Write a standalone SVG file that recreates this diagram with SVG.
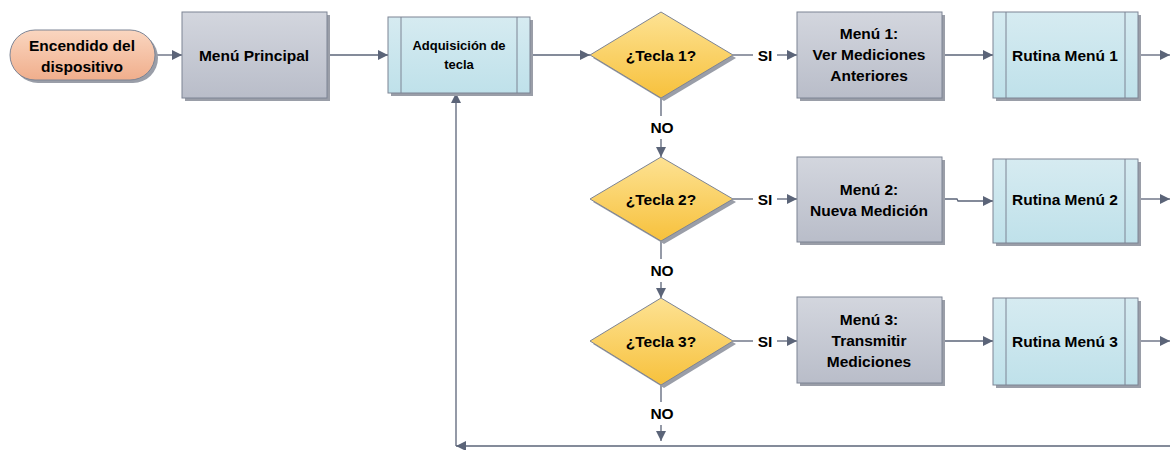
<svg xmlns="http://www.w3.org/2000/svg" width="1170" height="450" viewBox="0 0 1170 450">
<defs>
<linearGradient id="gGray" x1="0" y1="0" x2="0" y2="1"><stop offset="0" stop-color="#d3d6de"/><stop offset="1" stop-color="#b9bdc9"/></linearGradient>
<linearGradient id="gBlue" x1="0" y1="0" x2="0" y2="1"><stop offset="0" stop-color="#d6ebf1"/><stop offset="1" stop-color="#bfe1ea"/></linearGradient>
<linearGradient id="gYel" x1="0" y1="0" x2="0" y2="1"><stop offset="0" stop-color="#fde293"/><stop offset="1" stop-color="#f7c13c"/></linearGradient>
<linearGradient id="gSal" x1="0" y1="0" x2="0" y2="1"><stop offset="0" stop-color="#fad6c0"/><stop offset="1" stop-color="#f0ae8c"/></linearGradient>
<marker id="ah" viewBox="0 0 10 10" refX="10" refY="5" markerWidth="10" markerHeight="10" markerUnits="userSpaceOnUse" orient="auto"><path d="M0,0 L10,5 L0,10 z" fill="#5b6478"/></marker>
</defs>
<style>
.box{stroke:#7d8494;stroke-width:1}
.sh{fill:#9a9ea8}
.t{font-family:"Liberation Sans",Arial,sans-serif;font-weight:bold;font-size:15.5px;fill:#000;text-anchor:middle}
.ts{font-size:13px}
.c{fill:none;stroke:#5b6478;stroke-width:1.3}
.ca{fill:none;stroke:#5b6478;stroke-width:1.3;marker-end:url(#ah)}
.il{stroke:#7d8494;stroke-width:1}
</style>
<rect width="1170" height="450" fill="#fff"/>

<g id="connectors">
<line class="ca" x1="155" y1="55" x2="182" y2="55"/>
<line class="ca" x1="327" y1="55" x2="388" y2="55"/>
<line class="ca" x1="530" y1="55" x2="590" y2="55"/>
<line class="c" x1="733" y1="55" x2="753" y2="55"/>
<line class="ca" x1="777" y1="55" x2="797" y2="55"/>
<line class="ca" x1="942" y1="55" x2="993" y2="55"/>
<line class="ca" x1="1138" y1="55" x2="1170" y2="55"/>
<line class="c" x1="661" y1="98" x2="661" y2="116"/>
<line class="ca" x1="661" y1="139" x2="661" y2="157"/>
<line class="c" x1="733" y1="199" x2="753" y2="199"/>
<line class="ca" x1="777" y1="199" x2="797" y2="199"/>
<polyline class="ca" points="942,199 957,199 958,201 993,201"/>
<line class="ca" x1="1138" y1="199" x2="1170" y2="199"/>
<line class="c" x1="661" y1="241" x2="661" y2="259"/>
<line class="ca" x1="661" y1="282" x2="661" y2="298"/>
<line class="c" x1="733" y1="341" x2="753" y2="341"/>
<line class="ca" x1="777" y1="341" x2="797" y2="341"/>
<line class="ca" x1="942" y1="341" x2="993" y2="341"/>
<line class="ca" x1="1138" y1="341" x2="1170" y2="341"/>
<line class="c" x1="661" y1="385" x2="661" y2="402"/>
<line class="ca" x1="661" y1="425" x2="661" y2="441"/>
<line class="ca" x1="1170" y1="446" x2="456" y2="446"/>
<line class="ca" x1="456" y1="446" x2="456" y2="93"/>
<text class="t" x="765" y="61">SI</text>
<text class="t" x="765" y="205">SI</text>
<text class="t" x="765" y="347">SI</text>
<text class="t" x="662" y="133">NO</text>
<text class="t" x="662" y="276">NO</text>
<text class="t" x="662" y="419">NO</text>
</g>

<g id="start">
<rect x="13" y="33" width="145" height="50" rx="25" class="sh"/>
<rect x="10" y="30" width="145" height="50" rx="25" fill="url(#gSal)" class="box"/>
<text class="t" x="82" y="51">Encendido del</text>
<text class="t" x="82" y="72">dispositivo</text>
</g>

<g id="menu-principal">
<rect x="185" y="15" width="145" height="86" class="sh"/>
<rect x="182" y="12" width="145" height="86" fill="url(#gGray)" class="box"/>
<text class="t" x="254" y="61">Menú Principal</text>
</g>

<g id="adquisicion">
<rect x="391" y="20" width="142" height="76" class="sh"/>
<rect x="388" y="17" width="142" height="76" fill="url(#gBlue)" class="box"/>
<line class="il" x1="401" y1="17" x2="401" y2="93"/>
<line class="il" x1="517" y1="17" x2="517" y2="93"/>
<text class="t ts" x="459" y="50">Adquisición de</text>
<text class="t ts" x="459" y="69">tecla</text>
</g>

<g id="tecla1">
<polygon points="664,15 736,58 664,101 593,58" class="sh"/>
<polygon points="661,12 733,55 661,98 590,55" fill="url(#gYel)" class="box"/>
<text class="t" x="661" y="61">¿Tecla 1?</text>
</g>

<g id="menu1">
<rect x="800" y="15" width="145" height="86" class="sh"/>
<rect x="797" y="12" width="145" height="86" fill="url(#gGray)" class="box"/>
<text class="t" x="869" y="39">Menú 1:</text>
<text class="t" x="869" y="60">Ver Mediciones</text>
<text class="t" x="869" y="81">Anteriores</text>
</g>

<g id="rutina1">
<rect x="996" y="15" width="145" height="86" class="sh"/>
<rect x="993" y="12" width="145" height="86" fill="url(#gBlue)" class="box"/>
<line class="il" x1="1006" y1="12" x2="1006" y2="98"/>
<line class="il" x1="1125" y1="12" x2="1125" y2="98"/>
<text class="t" x="1065" y="61">Rutina Menú 1</text>
</g>

<g id="tecla2">
<polygon points="664,160 736,202 664,244 593,202" class="sh"/>
<polygon points="661,157 733,199 661,241 590,199" fill="url(#gYel)" class="box"/>
<text class="t" x="661" y="205">¿Tecla 2?</text>
</g>

<g id="menu2">
<rect x="800" y="160" width="145" height="85" class="sh"/>
<rect x="797" y="157" width="145" height="85" fill="url(#gGray)" class="box"/>
<text class="t" x="869" y="195">Menú 2:</text>
<text class="t" x="869" y="216">Nueva Medición</text>
</g>

<g id="rutina2">
<rect x="996" y="162" width="145" height="84" class="sh"/>
<rect x="993" y="159" width="145" height="84" fill="url(#gBlue)" class="box"/>
<line class="il" x1="1006" y1="159" x2="1006" y2="243"/>
<line class="il" x1="1125" y1="159" x2="1125" y2="243"/>
<text class="t" x="1065" y="205">Rutina Menú 2</text>
</g>

<g id="tecla3">
<polygon points="664,301 736,344 664,388 593,344" class="sh"/>
<polygon points="661,298 733,341 661,385 590,341" fill="url(#gYel)" class="box"/>
<text class="t" x="661" y="347">¿Tecla 3?</text>
</g>

<g id="menu3">
<rect x="800" y="300" width="145" height="86" class="sh"/>
<rect x="797" y="297" width="145" height="86" fill="url(#gGray)" class="box"/>
<text class="t" x="869" y="325">Menú 3:</text>
<text class="t" x="869" y="346">Transmitir</text>
<text class="t" x="869" y="367">Mediciones</text>
</g>

<g id="rutina3">
<rect x="996" y="301" width="145" height="87" class="sh"/>
<rect x="993" y="298" width="145" height="87" fill="url(#gBlue)" class="box"/>
<line class="il" x1="1006" y1="298" x2="1006" y2="385"/>
<line class="il" x1="1125" y1="298" x2="1125" y2="385"/>
<text class="t" x="1065" y="347">Rutina Menú 3</text>
</g>
</svg>
